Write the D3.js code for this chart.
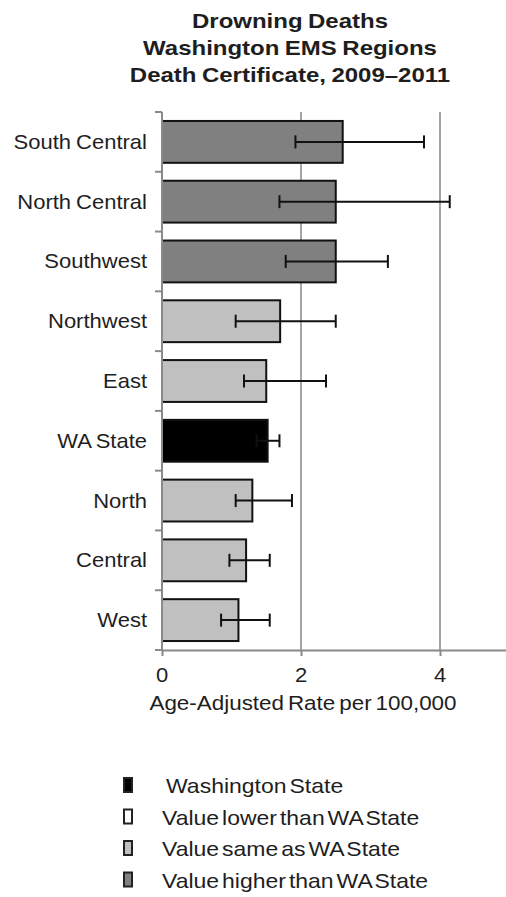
<!DOCTYPE html>
<html>
<head>
<meta charset="utf-8">
<script src="https://cdn.jsdelivr.net/npm/d3@7/dist/d3.min.js"></script>
<style>
  html, body { margin: 0; padding: 0; background: #fff; }
  svg { display: block; font-family: "Liberation Sans", Arial, sans-serif; }
</style>
</head>
<body>
<svg id="chart" width="506" height="897"></svg>
<script>
// Drowning death rates by Washington EMS region, 2009–2011
const regions   = ["South Central", "North Central", "Southwest", "Northwest", "East", "WA State", "North", "Central", "West"];
const rates     = [2.60, 2.50, 2.50, 1.70, 1.50, 1.52, 1.30, 1.21, 1.10];
const ciLow     = [1.92, 1.69, 1.78, 1.06, 1.18, 1.36, 1.06, 0.97, 0.85];
const ciHigh    = [3.77, 4.14, 3.25, 2.50, 2.36, 1.69, 1.87, 1.55, 1.55];
const status    = ["higher", "higher", "higher", "same", "same", "state", "same", "same", "same"];
const xTicks    = [0, 2, 4];
const titleLines = ["Drowning Deaths", "Washington EMS Regions", "Death Certificate, 2009\u20132011"];
const xTitle    = "Age-Adjusted Rate per 100,000";
const legendKeys   = ["state", "lower", "same", "higher"];
const legendLabels = ["Washington State", "Value lower than WA State", "Value same as WA State", "Value higher than WA State"];

const fillFor = { state: "#000000", lower: "#ffffff", same: "#c0c0c0", higher: "#808080" };
const textColor = "#1e1e1e";
const gridColor = "#a5a5a5";

const svg = d3.select("#chart");

// text drawn slightly widened horizontally
function stretchedText(g, x, y, str, opts) {
  return g.append("text")
    .attr("transform", `translate(${x},${y}) scale(${opts.sx || 1.12},1)`)
    .attr("text-anchor", opts.anchor || "start")
    .attr("font-size", opts.size || 19)
    .attr("font-weight", opts.weight || "normal")
    .attr("word-spacing", opts.ws || 0)
    .attr("fill", textColor)
    .text(str);
}

const x = d3.scaleLinear().domain([0, 5]).range([162, 509.5]);
const y = d3.scaleBand().domain(regions).range([112, 650]).paddingInner(0.3).paddingOuter(0.15);

// title
const title = svg.append("g");
titleLines.forEach((line, i) => {
  stretchedText(title, 290, 28 + i * 27, line, { anchor: "middle", size: 20, weight: "bold", sx: 1.2, ws: -1 });
});

// vertical gridlines
svg.append("g")
  .selectAll("line")
  .data(xTicks.filter(d => d > 0))
  .join("line")
  .attr("x1", d => x(d)).attr("x2", d => x(d))
  .attr("y1", y.range()[0]).attr("y2", y.range()[1])
  .attr("stroke", gridColor).attr("stroke-width", 2);

// bars
svg.append("g")
  .selectAll("rect")
  .data(regions)
  .join("rect")
  .attr("x", x(0))
  .attr("y", d => y(d))
  .attr("width", (d, i) => x(rates[i]) - x(0))
  .attr("height", y.bandwidth())
  .attr("fill", (d, i) => fillFor[status[i]])
  .attr("stroke", "#111")
  .attr("stroke-width", 2);

// confidence intervals
const err = svg.append("g").attr("stroke", "#111").attr("stroke-width", 2);
regions.forEach((r, i) => {
  const cy = y(r) + y.bandwidth() / 2;
  err.append("line").attr("x1", x(ciLow[i])).attr("x2", x(ciHigh[i])).attr("y1", cy).attr("y2", cy);
  [ciLow[i], ciHigh[i]].forEach(v => {
    err.append("line").attr("x1", x(v)).attr("x2", x(v)).attr("y1", cy - 6.5).attr("y2", cy + 6.5);
  });
});

// y axis: line with ticks between categories
const yAxis = svg.append("g").attr("stroke", "#8a8a8a").attr("stroke-width", 2);
yAxis.append("line").attr("x1", x(0)).attr("x2", x(0)).attr("y1", y.range()[0]).attr("y2", y.range()[1]);
yAxis.selectAll("line.tick")
  .data(d3.range(regions.length + 1))
  .join("line")
  .attr("class", "tick")
  .attr("x1", x(0) - 7).attr("x2", x(0))
  .attr("y1", i => y.range()[0] + i * y.step())
  .attr("y2", i => y.range()[0] + i * y.step());

// category labels
const labels = svg.append("g");
regions.forEach(r => {
  stretchedText(labels, 147, y(r) + y.bandwidth() / 2 + 7, r, { anchor: "end", size: 20, sx: 1.1, ws: -1 });
});

// x axis
const xAxisG = svg.append("g")
  .attr("transform", `translate(0,${y.range()[1]})`)
  .call(d3.axisBottom(x).tickValues(xTicks).tickSize(6).tickSizeOuter(0).tickFormat(d3.format("d")));
xAxisG.select(".domain").attr("stroke", "#8a8a8a").attr("stroke-width", 2);
xAxisG.selectAll(".tick line").attr("stroke", "#8a8a8a").attr("stroke-width", 2);
xAxisG.selectAll(".tick text").remove();
xTicks.forEach(t => {
  stretchedText(svg, x(t), 682, String(t), { anchor: "middle", size: 20, sx: 1.1 });
});

// x axis title
stretchedText(svg, 303, 710, xTitle, { anchor: "middle", size: 19.5, sx: 1.15, ws: -2 });

// legend
const legend = svg.append("g");
legendKeys.forEach((k, i) => {
  const ly = 793 + i * 31.5;
  legend.append("rect")
    .attr("x", 124).attr("y", ly - 15)
    .attr("width", 8).attr("height", 14)
    .attr("fill", fillFor[k])
    .attr("stroke", "#222").attr("stroke-width", 2);
  stretchedText(legend, i === 0 ? 166 : 162, ly, legendLabels[i], { size: 20, sx: 1.15, ws: -3 });
});
</script>
</body>
</html>
